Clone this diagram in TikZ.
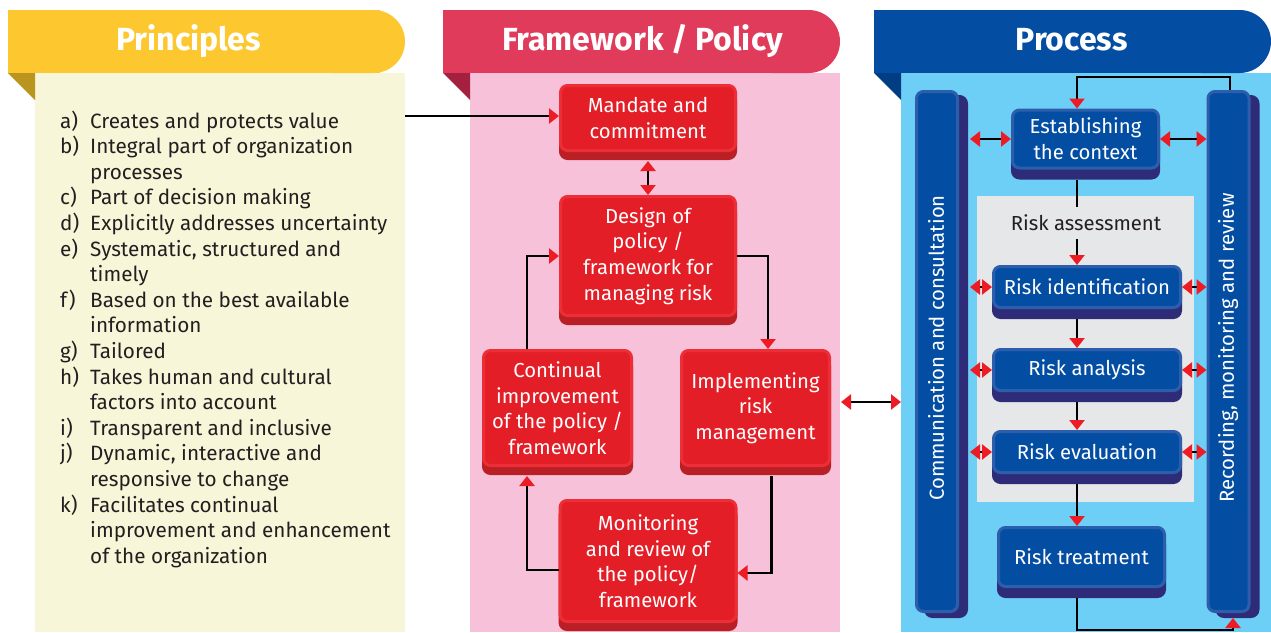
\documentclass[tikz,border=0pt]{standalone}
\usepackage{fontspec}
\setmainfont{Fira Sans}
\usetikzlibrary{arrows.meta,shadows}
\definecolor{yhead}{HTML}{FDC82F}
\definecolor{yfold}{HTML}{B99520}
\definecolor{ybody}{HTML}{F7F6D9}
\definecolor{chead}{HTML}{E13B5B}
\definecolor{cfold}{HTML}{A3213F}
\definecolor{pbody}{HTML}{F7C1DA}
\definecolor{bhead}{HTML}{034EA2}
\definecolor{bfold}{HTML}{003D82}
\definecolor{bbody}{HTML}{6DCFF6}
\definecolor{rface}{HTML}{E31E27}
\definecolor{rrim}{HTML}{EE2E36}
\definecolor{rshad}{HTML}{BA1F26}
\definecolor{bface}{HTML}{034EA2}
\definecolor{brim}{HTML}{2D5EAB}
\definecolor{bshad}{HTML}{2E2C78}
\definecolor{gbox}{HTML}{E6E7E8}
\definecolor{tipred}{HTML}{ED1C24}
\definecolor{txt}{HTML}{231F20}
\newcommand\lstfont{\fontsize{20.7}{25.6}\selectfont}
\newcommand\bxfont{\fontsize{20.3}{25.6}\selectfont}
\newcommand\ttlfont{\fontsize{32}{36}\selectfont\bfseries}
\begin{document}
\begin{tikzpicture}[x=1pt,y=-1pt,
  >={Triangle[length=10pt,width=15pt,color=tipred]},
  conn/.style={line width=2.6pt, draw=black},
  redbox/.style={draw=rrim, line width=3pt, fill=rface, rounded corners=7pt, text=white, align=center, font=\bxfont, inner sep=0pt, general shadow={fill=rshad, draw=rshad, shadow yshift=-8pt}},
  bluebox/.style={draw=brim, line width=3pt, fill=bface, rounded corners=7pt, text=white, align=center, font=\bxfont, inner sep=0pt, general shadow={fill=bshad, draw=bshad, shadow yshift=-10pt}},
  pillar/.style={draw=brim, line width=3pt, fill=bface, rounded corners=7pt, inner sep=0pt, minimum width=41pt, minimum height=520pt, general shadow={fill=bshad, draw=bshad, shadow xshift=9pt, shadow yshift=-5pt}},
  ttl/.style={text=white, font=\ttlfont, inner sep=0pt, anchor=base},
  vtext/.style={rotate=90, text=white, font=\bxfont, inner sep=0pt}
]
\useasboundingbox (0,0) rectangle (1271,632);
% ---- Principles panel
\fill[ybody] (35,73) rectangle (405,632);
\fill[yfold] (8,73) -- (35,73) -- (35,100) -- cycle;
\fill[yhead] (8,10) rectangle (380,73);
\fill[yhead, rounded corners=31.5pt] (300,10) -- (405,10) -- (405,73) -- (300,73) -- cycle;
% ---- Framework panel
\fill[pbody] (470,73) rectangle (840,632);
\fill[cfold] (443,73) -- (470,73) -- (470,100) -- cycle;
\fill[chead] (443,10) rectangle (800,73);
\fill[chead, rounded corners=31.5pt] (740,10) -- (840,10) -- (840,73) -- (740,73) -- cycle;
% ---- Process panel
\fill[bbody] (901,73) rectangle (1271,632);
\fill[bfold] (874,73) -- (901,73) -- (901,100) -- cycle;
\fill[bhead] (874,10) rectangle (1230,73);
\fill[bhead, rounded corners=31.5pt] (1170,10) -- (1271,10) -- (1271,73) -- (1170,73) -- cycle;
\fill[gbox] (977,196) rectangle (1194,502);
% ---- titles
\node[ttl] (tp) at (188.5,50) {Principles};
\node[ttl] (tf) at (642.5,50) {Framework / Policy};
\node[ttl] (tpr) at (1071.5,50) {Process};
% ---- principles list
\node[anchor=base west, inner sep=0pt, font=\lstfont, text=txt] (plist) at (60,128) {%
\begin{tabular}[t]{@{}p{30pt}@{}l@{}}
a) & Creates and protects value\\
b) & Integral part of organization\\
   & processes\\
c) & Part of decision making\\
d) & Explicitly addresses uncertainty\\
e) & Systematic, structured and\\
   & timely\\
f) & Based on the best available\\
   & information\\
g) & Tailored\\
h) & Takes human and cultural\\
   & factors into account\\
i) & Transparent and inclusive\\
j) & Dynamic, interactive and\\
   & responsive to change\\
k) & Facilitates continual\\
   & improvement and enhancement\\
   & of the organization
\end{tabular}};
% ---- framework boxes
\node[redbox, minimum width=175pt, minimum height=65pt] (mand) at (648,118) {Mandate and\\commitment};
\node[redbox, minimum width=175pt, minimum height=119pt] (des) at (648,256) {Design of\\policy /\\framework for\\managing risk};
\node[redbox, minimum width=148pt, minimum height=115pt] (cont) at (557.5,408) {Continual\\improvement\\of the policy /\\framework};
\node[redbox, minimum width=148pt, minimum height=115pt] (impl) at (755.5,408) {Implementing\\risk\\management};
\node[redbox, minimum width=176pt, minimum height=121pt] (mon) at (648,561) {Monitoring\\and review of\\the policy/\\framework};
% ---- process boxes
\node[pillar] (lp) at (937,351.5) {};
\node[pillar] (rp) at (1228.5,351.5) {};
\node[vtext] (lpt) at (936,348) {Communication and consultation};
\node[vtext] (rpt) at (1228,348) {Recording, monitoring and review};
\node[bluebox, minimum width=146pt, minimum height=58pt] (est) at (1085.5,139) {Establishing\\the context};
\node[text=txt, font=\bxfont, minimum height=32pt, inner sep=0pt] (ra) at (1086,223) {Risk assessment};
\node[bluebox, minimum width=187pt, minimum height=41pt] (rid) at (1087,287) {Risk identification};
\node[bluebox, minimum width=187pt, minimum height=41pt] (ran) at (1087,370) {Risk analysis};
\node[bluebox, minimum width=187pt, minimum height=41pt] (rev) at (1087,452) {Risk evaluation};
\node[bluebox, minimum width=166pt, minimum height=59pt] (rtr) at (1081.5,557) {Risk treatment};
% ---- framework connectors
\coordinate (pr) at (405,116);
\draw[conn,->] (pr) -- (pr -| mand.west);
\draw[conn,<->] ([yshift=-9pt]mand.south) -- (des.north);
\draw[conn,->] (des.east) -| ([xshift=12.5pt]impl.north);
\draw[conn,->] ([xshift=-30.5pt]cont.north) |- (des.west);
\draw[conn,->] ([xshift=16pt,yshift=-9pt]impl.south) |- ([yshift=-12pt]mon.east);
\draw[conn,->] ([yshift=-9pt]mon.west) -| ([xshift=-30.5pt,yshift=-9pt]cont.south);
\coordinate (fwe) at (841,402);
\coordinate (pcw) at (901,402);
\draw[conn,<->] (fwe) -- (pcw);
% ---- process connectors
\coordinate (vx) at (1077,0);
\coordinate (lx) at (970,0);
\draw[conn,->] ([xshift=1.5pt]rp.north) -- ++(0,-13) -| (vx |- est.north);
\draw[conn,<->] (lx |- est.west) -- (est.west);
\draw[conn,<->] (est.east) -- (rp.west |- est.east);
\draw[conn,<->] (lx |- rid.west) -- (rid.west);
\draw[conn,<->] (rid.east) -- (rp.west |- rid.east);
\draw[conn,<->] (lx |- ran.west) -- (ran.west);
\draw[conn,<->] (ran.east) -- (rp.west |- ran.east);
\draw[conn,<->] (lx |- rev.west) -- (rev.west);
\draw[conn,<->] (rev.east) -- (rp.west |- rev.east);
\draw[conn] (vx |- est.south) ++(0,10) -- (vx |- ra.north);
\draw[conn,->] (vx |- ra.south) -- (vx |- rid.north);
\draw[conn,->] (vx |- rid.south) ++(0,10) -- (vx |- ran.north);
\draw[conn,->] (vx |- ran.south) ++(0,10) -- (vx |- rev.north);
\draw[conn,->] (vx |- rev.south) ++(0,10) -- (vx |- rtr.north);
\draw[conn,->] (vx |- rtr.south) ++(0,10) -- ++(0,32) -| ([xshift=4.5pt,yshift=-5pt]rp.south);
\end{tikzpicture}
\end{document}
